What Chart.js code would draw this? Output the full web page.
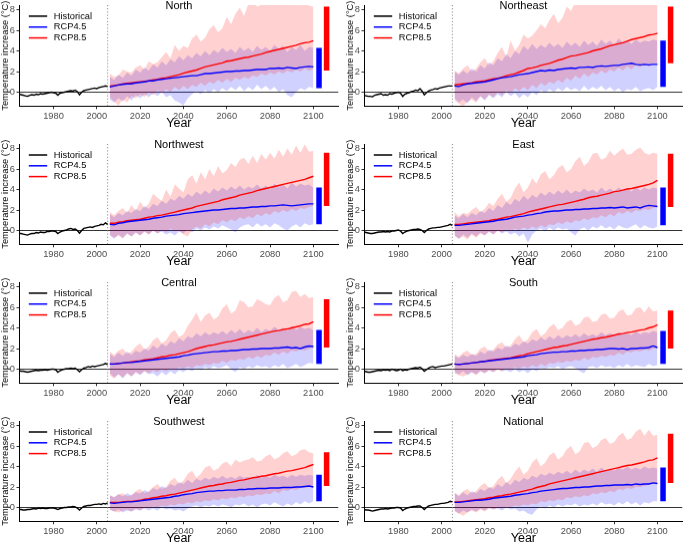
<!DOCTYPE html>
<html>
<head>
<meta charset="utf-8">
<script src="https://cdn.jsdelivr.net/npm/chart.js@4.4.1/dist/chart.umd.min.js"></script>
<style>
  html, body { margin: 0; padding: 0; background: #fff; overflow: hidden; }
  body { width: 685px; height: 543px; position: relative; }
  .panel { position: absolute; }
</style>
</head>
<body>
<script>
// Años
const histYears = [1964,1965,1966,1967,1968,1969,1970,1971,1972,1973,1974,1975,1976,1977,1978,1979,1980,1981,1982,1983,1984,1985,1986,1987,1988,1989,1990,1991,1992,1993,1994,1995,1996,1997,1998,1999,2000,2001,2002,2003,2004,2005];
const projYears = [2006,2008,2010,2012,2014,2016,2018,2020,2022,2024,2026,2028,2030,2032,2034,2036,2038,2040,2042,2044,2046,2048,2050,2052,2054,2056,2058,2060,2062,2064,2066,2068,2070,2072,2074,2076,2078,2080,2082,2084,2086,2088,2090,2092,2094,2096,2098,2100];
const xTicks = [1980, 2000, 2020, 2040, 2060, 2080, 2100];
const yTicks = [0, 2, 4, 6, 8];

const regions = ['North', 'Northeast', 'Northwest', 'East', 'Central', 'South', 'Southwest', 'National'];

// North
const northHist = [-0.2,-0.25,-0.3,-0.35,-0.4,-0.3,-0.25,-0.3,-0.2,-0.25,-0.15,-0.2,-0.15,-0.1,-0.05,0.0,-0.05,-0.1,-0.3,-0.1,-0.05,0.0,0.05,0.1,0.15,0.1,0.2,0.05,-0.25,0.0,0.15,0.2,0.25,0.3,0.35,0.4,0.35,0.45,0.5,0.55,0.6,0.55];
const north45 = [0.5,0.6,0.7,0.75,0.8,0.8,0.9,0.95,1.0,1.1,1.1,1.2,1.25,1.3,1.35,1.4,1.45,1.5,1.55,1.6,1.6,1.7,1.8,1.8,1.85,1.9,1.95,2.0,2.0,2.05,2.05,2.1,2.1,2.15,2.2,2.2,2.2,2.3,2.3,2.35,2.3,2.4,2.35,2.3,2.4,2.45,2.5,2.45];
const north45Hi = [1.5,1.2,1.7,1.4,1.9,1.6,2.2,1.9,2.4,2.1,2.7,2.4,3.0,2.6,3.2,2.9,3.5,3.1,3.6,3.3,3.8,3.5,4.0,3.6,4.1,3.8,4.3,3.9,4.2,3.8,4.4,4.0,4.3,3.9,4.5,4.1,4.4,4.0,4.6,4.2,4.5,3.9,4.4,4.1,4.6,4.0,4.4,4.3];
const north45Lo = [-0.7,-1.0,-0.6,-0.9,-0.4,-0.8,-0.3,-0.6,-0.2,-0.5,-0.1,-0.4,0.0,-0.5,-0.3,-0.8,-1.0,-1.3,-0.6,-0.2,0.1,-0.2,0.2,-0.1,0.3,0.0,0.4,0.1,0.5,0.2,0.6,0.1,0.5,0.2,0.7,0.3,0.6,0.2,0.5,0.0,0.3,-0.3,-0.5,0.0,0.4,0.2,0.5,0.4];
const north85 = [0.6,0.65,0.7,0.8,0.85,0.9,0.95,1.0,1.05,1.1,1.2,1.25,1.35,1.4,1.5,1.6,1.7,1.85,1.95,2.05,2.15,2.3,2.45,2.55,2.65,2.75,2.85,3.0,3.05,3.15,3.25,3.35,3.4,3.5,3.6,3.7,3.85,3.95,4.05,4.15,4.25,4.35,4.45,4.55,4.7,4.8,4.85,5.0];
const north85Hi = [1.8,1.5,1.6,2.2,2.0,1.9,2.4,2.6,2.2,3.0,2.7,2.9,3.4,3.9,3.3,4.6,4.0,4.5,4.3,5.2,5.6,4.9,5.3,6.1,6.5,5.8,6.2,7.3,6.6,7.6,8.2,7.4,8.6,8.9,8.3,8.5,8.9,9.0,8.7,8.6,8.9,8.5,8.8,8.4,8.9,8.6,8.4,8.3];
const north85Lo = [-0.5,-0.9,-1.3,-0.7,-1.0,-0.4,-0.6,-0.2,-0.5,0.0,-0.3,0.2,-0.1,0.3,0.0,0.5,0.2,0.6,0.3,0.7,0.5,0.9,0.6,1.0,0.8,1.2,0.9,1.3,1.0,1.4,1.2,1.5,1.3,1.6,1.5,1.8,1.6,1.9,1.7,2.0,1.8,2.1,1.9,2.2,2.0,2.3,2.1,2.2];

// Northeast
const neHist = [-0.3,-0.35,-0.4,-0.4,-0.45,-0.3,-0.25,-0.2,-0.15,-0.3,-0.25,-0.3,-0.15,-0.2,-0.1,-0.05,0.0,-0.1,-0.4,-0.2,-0.1,-0.05,0.05,0.1,0.2,0.15,0.35,0.1,-0.25,-0.05,0.1,0.2,0.25,0.35,0.3,0.4,0.45,0.5,0.55,0.6,0.6,0.6];
const ne45 = [0.6,0.55,0.7,0.8,0.85,0.9,0.95,1.0,1.1,1.2,1.3,1.4,1.45,1.5,1.6,1.7,1.75,1.8,1.9,2.0,2.1,2.05,2.15,2.1,2.2,2.25,2.3,2.35,2.3,2.4,2.4,2.45,2.4,2.5,2.55,2.5,2.55,2.6,2.6,2.7,2.75,2.8,2.7,2.65,2.7,2.65,2.7,2.7];
const ne45Hi = [2.0,1.7,2.1,1.8,2.3,2.0,2.6,2.3,2.9,2.6,3.3,3.0,3.7,3.3,4.0,3.7,4.5,4.1,4.7,4.2,4.6,4.3,4.8,4.4,4.7,4.3,4.9,4.5,4.8,4.4,5.0,4.6,4.9,4.5,5.1,4.7,5.0,4.6,5.2,4.8,5.0,4.7,5.1,4.8,5.0,4.9,5.1,5.0];
const ne45Lo = [-0.6,-1.0,-0.7,-1.1,-0.5,-0.9,-0.4,-0.8,-0.3,-0.6,-0.2,-0.5,0.0,-0.4,-0.1,-0.6,-0.2,-0.5,0.0,-0.3,0.2,-0.1,0.3,0.0,0.4,0.1,0.5,0.2,0.4,0.1,0.6,0.2,0.5,0.3,0.6,0.2,0.5,0.1,0.4,0.0,0.3,0.2,0.5,0.1,0.3,0.4,0.2,0.5];
const ne85 = [0.7,0.75,0.8,0.85,0.9,1.0,1.05,1.1,1.2,1.3,1.35,1.45,1.6,1.7,1.8,1.95,2.1,2.3,2.35,2.45,2.6,2.7,2.8,2.95,3.1,3.2,3.35,3.5,3.55,3.65,3.75,3.85,4.0,4.1,4.2,4.35,4.5,4.6,4.7,4.8,4.95,5.1,5.2,5.3,5.4,5.55,5.6,5.7];
const ne85Hi = [2.1,1.8,2.3,2.6,2.0,2.3,2.9,3.3,2.6,3.0,3.8,4.4,3.4,5.0,4.0,4.6,5.6,5.2,5.5,6.0,6.6,6.2,7.0,7.6,6.7,7.2,8.3,7.9,8.8,9.0,8.5,8.7,9.2,8.8,9.0,8.7,9.1,8.8,9.0,8.6,9.0,8.7,8.9,8.6,9.0,8.7,8.6,8.5];
const ne85Lo = [-0.8,-1.1,-1.4,-0.9,-0.7,-1.0,-0.4,-0.7,-0.2,-0.5,0.0,-0.3,0.2,-0.1,0.4,0.1,0.5,0.2,0.7,0.4,0.9,0.6,1.0,0.8,1.2,0.9,1.4,1.1,1.6,1.3,1.8,1.5,1.9,1.7,2.1,1.8,2.2,2.0,2.4,2.1,2.5,2.2,2.6,2.4,2.7,2.5,2.8,2.8];

// Northwest
const nwHist = [-0.3,-0.3,-0.35,-0.4,-0.45,-0.35,-0.3,-0.3,-0.2,-0.25,-0.15,-0.2,-0.2,-0.1,-0.1,-0.05,-0.05,-0.1,-0.3,-0.15,-0.05,0.0,0.05,0.15,0.2,0.1,0.15,0.0,-0.25,0.0,0.2,0.25,0.3,0.35,0.3,0.4,0.45,0.5,0.6,0.55,0.75,0.6];
const nw45 = [0.6,0.55,0.7,0.75,0.85,0.9,0.95,1.0,1.05,1.1,1.2,1.25,1.3,1.4,1.45,1.5,1.55,1.65,1.7,1.75,1.8,1.85,1.9,1.95,2.0,2.0,2.05,2.1,2.15,2.15,2.2,2.2,2.25,2.3,2.3,2.35,2.35,2.4,2.4,2.45,2.5,2.45,2.4,2.45,2.5,2.55,2.6,2.6];
const nw45Hi = [1.6,1.3,1.7,1.5,1.9,1.7,2.1,1.9,2.4,2.1,2.6,2.4,2.9,2.6,3.1,2.9,3.4,3.1,3.6,3.3,3.8,3.5,3.9,3.6,4.1,3.8,4.2,3.9,4.3,4.0,4.4,4.0,4.3,4.1,4.5,4.1,4.4,4.0,4.6,4.2,4.5,4.1,4.7,4.3,4.6,4.4,4.5,4.2];
const nw45Lo = [-0.5,-0.8,-0.4,-0.7,-0.3,-0.6,-0.2,-0.5,-0.1,-0.4,0.0,-0.3,-0.1,-0.4,-0.2,-0.5,-0.1,-0.3,0.1,-0.2,0.2,0.0,0.3,0.1,0.4,0.2,0.5,0.3,0.1,-0.2,0.3,0.5,0.6,0.3,0.7,0.4,0.6,0.3,0.7,0.5,0.2,0.0,0.4,0.6,0.3,0.7,0.5,0.6];
const nw85 = [0.7,0.7,0.8,0.85,0.95,1.0,1.05,1.1,1.2,1.3,1.35,1.45,1.5,1.6,1.7,1.8,1.9,2.0,2.1,2.2,2.35,2.45,2.55,2.65,2.75,2.85,3.0,3.1,3.2,3.3,3.45,3.55,3.65,3.75,3.9,4.0,4.1,4.2,4.3,4.4,4.5,4.6,4.7,4.8,4.9,5.0,5.15,5.3];
const nw85Hi = [1.8,1.5,1.9,2.2,1.7,2.5,1.9,2.8,2.2,2.6,3.6,3.2,2.9,4.0,3.3,4.5,4.1,3.7,5.0,5.4,4.6,5.7,5.0,6.0,5.3,6.3,5.6,5.9,6.6,6.2,6.9,7.1,6.5,7.3,6.6,7.5,6.9,7.6,7.0,7.9,7.2,8.0,7.4,8.3,7.6,8.4,7.7,7.8];
const nw85Lo = [-0.4,-0.7,-0.5,-0.8,-0.3,-0.6,-0.2,-0.5,-0.1,-0.4,0.0,-0.3,0.1,-0.2,0.2,-0.1,0.0,-0.4,-0.6,0.1,0.4,0.2,0.6,0.4,0.8,0.6,1.0,0.8,1.1,0.9,1.3,1.1,1.4,1.2,1.6,1.4,1.7,1.5,1.9,1.7,2.0,1.8,2.1,1.9,2.2,2.1,2.3,2.4];

// East
const eaHist = [-0.15,-0.2,-0.25,-0.3,-0.3,-0.25,-0.2,-0.15,-0.15,-0.1,-0.15,-0.1,-0.15,-0.05,-0.05,0.0,0.05,-0.05,-0.3,-0.15,-0.05,0.0,0.05,0.1,0.1,0.15,0.1,0.0,-0.2,0.0,0.15,0.2,0.25,0.25,0.3,0.3,0.35,0.4,0.45,0.5,0.6,0.5];
const ea45 = [0.5,0.5,0.55,0.6,0.65,0.7,0.75,0.8,0.85,0.9,1.0,1.05,1.1,1.2,1.3,1.35,1.4,1.5,1.55,1.65,1.7,1.8,1.85,1.9,1.9,1.95,2.0,2.0,2.05,2.05,2.1,2.1,2.15,2.15,2.2,2.2,2.25,2.2,2.25,2.3,2.2,2.25,2.3,2.2,2.35,2.45,2.4,2.35];
const ea45Hi = [1.5,1.2,1.6,1.3,1.7,1.5,1.9,1.7,2.2,1.9,2.5,2.2,2.8,2.5,3.1,2.8,3.4,3.0,3.5,3.2,3.7,3.4,3.8,3.5,3.9,3.6,4.0,3.6,3.9,3.7,4.1,3.8,4.0,3.7,4.2,3.8,4.1,3.8,4.2,3.9,4.1,3.8,4.3,3.9,4.2,4.0,4.2,4.1];
const ea45Lo = [-0.5,-0.8,-0.4,-0.7,-0.3,-0.6,-0.2,-0.5,-0.1,-0.4,0.0,-0.3,-0.1,-0.4,-0.2,-0.6,-0.3,-1.2,-0.4,0.0,0.2,-0.1,0.3,0.0,0.3,0.1,0.2,-0.2,-0.5,0.1,0.3,0.0,0.4,0.2,0.5,0.2,0.4,0.1,0.5,0.3,0.2,0.4,0.6,0.2,0.5,0.3,0.2,0.4];
const ea85 = [0.6,0.6,0.65,0.7,0.75,0.8,0.85,0.9,0.95,1.05,1.1,1.2,1.3,1.35,1.45,1.55,1.65,1.8,1.9,2.0,2.1,2.2,2.3,2.4,2.5,2.55,2.65,2.75,2.85,2.95,3.05,3.2,3.3,3.35,3.45,3.55,3.65,3.8,3.85,3.95,4.05,4.1,4.2,4.3,4.4,4.5,4.65,4.9];
const ea85Hi = [1.8,1.4,1.7,1.6,2.0,2.3,1.8,2.1,2.7,2.4,3.1,3.6,2.8,3.2,4.1,4.7,3.7,4.2,5.1,4.6,5.5,5.8,5.0,5.4,6.1,6.4,5.7,6.0,6.8,7.2,6.3,6.7,7.5,7.6,6.9,7.1,7.8,7.3,7.7,8.0,7.4,7.5,7.9,8.1,7.6,7.4,7.6,7.5];
const ea85Lo = [-0.5,-0.8,-0.6,-0.9,-0.4,-0.7,-0.3,-0.5,-0.1,-0.4,0.0,-0.2,0.1,-0.1,0.2,0.0,0.3,0.1,0.4,0.2,0.5,0.3,0.6,0.5,0.8,0.6,0.9,0.7,1.0,0.9,1.2,1.0,1.3,1.2,1.5,1.3,1.6,1.4,1.8,1.6,1.9,1.7,2.0,1.9,2.1,2.0,2.2,2.3];

// Central
const ceHist = [-0.15,-0.2,-0.2,-0.25,-0.3,-0.25,-0.2,-0.15,-0.1,-0.15,-0.1,-0.1,-0.05,-0.1,-0.05,0.0,0.0,-0.05,-0.3,-0.15,-0.05,0.0,0.05,0.05,0.1,0.05,0.1,-0.05,-0.25,-0.05,0.1,0.15,0.25,0.2,0.3,0.25,0.3,0.35,0.4,0.45,0.55,0.45];
const ce45 = [0.5,0.5,0.55,0.6,0.65,0.65,0.7,0.75,0.8,0.85,0.9,0.95,1.0,1.05,1.1,1.15,1.2,1.3,1.35,1.45,1.5,1.55,1.6,1.65,1.7,1.7,1.75,1.75,1.8,1.8,1.85,1.9,1.9,1.95,1.95,2.0,2.0,2.0,2.05,2.05,2.1,2.15,2.05,2.1,2.0,2.15,2.25,2.2];
const ce45Hi = [1.5,1.2,1.6,1.3,1.7,1.4,1.8,1.6,2.0,1.8,2.3,2.0,2.5,2.2,2.7,2.5,3.0,2.7,3.2,3.0,3.5,3.2,3.6,3.3,3.6,3.4,3.7,3.4,3.8,3.5,3.9,3.5,3.8,3.6,4.0,3.6,3.9,3.7,4.1,3.8,4.0,3.7,4.2,3.8,4.1,3.9,4.0,3.8];
const ce45Lo = [-0.4,-0.8,-0.5,-0.9,-0.4,-0.7,-0.3,-0.6,-0.2,-0.5,-0.4,-0.7,-0.3,-0.6,-0.2,-0.5,-0.1,-0.3,0.0,-0.2,0.1,-0.1,0.2,0.0,0.3,0.1,0.2,0.4,0.0,-0.3,0.2,0.0,0.3,0.1,0.4,0.2,0.3,0.1,0.4,0.2,0.5,0.1,0.3,0.5,0.2,0.4,0.6,0.5];
const ce85 = [0.5,0.5,0.55,0.6,0.65,0.7,0.75,0.8,0.9,0.95,1.0,1.1,1.2,1.25,1.35,1.4,1.5,1.6,1.7,1.85,2.0,2.1,2.2,2.3,2.35,2.45,2.55,2.65,2.7,2.8,2.9,3.0,3.1,3.2,3.3,3.4,3.5,3.6,3.7,3.75,3.85,3.9,4.0,4.1,4.2,4.35,4.4,4.6];
const ce85Hi = [1.7,1.4,1.8,2.0,1.5,1.7,2.2,2.5,1.9,2.2,2.8,3.1,2.5,2.8,3.5,3.8,3.1,3.4,4.2,4.8,5.5,4.6,5.2,5.5,4.8,5.1,5.9,6.3,5.4,5.7,6.7,6.5,6.0,6.1,6.8,6.6,6.3,6.2,6.9,7.2,6.5,6.7,7.5,7.6,7.0,7.3,6.9,7.0];
const ce85Lo = [-0.6,-0.9,-0.5,-0.8,-0.4,-0.7,-0.3,-0.5,-0.2,-0.4,-0.1,-0.3,0.0,-0.2,0.1,-0.1,0.2,0.0,0.3,0.1,0.4,0.3,0.5,0.4,0.6,0.5,0.8,0.6,0.9,0.8,1.0,0.9,1.2,1.0,1.3,1.1,1.4,1.3,1.6,1.4,1.7,1.5,1.8,1.7,1.9,1.8,2.0,2.1];

// South
const soHist = [-0.2,-0.25,-0.3,-0.3,-0.25,-0.2,-0.15,-0.1,-0.15,-0.05,-0.1,-0.05,-0.15,0.0,-0.05,-0.15,-0.1,0.0,-0.15,-0.05,-0.1,0.0,0.05,0.1,0.15,0.1,0.2,0.05,-0.2,-0.05,0.1,0.2,0.25,0.15,0.2,0.25,0.3,0.3,0.35,0.4,0.45,0.5];
const so45 = [0.5,0.45,0.5,0.55,0.6,0.65,0.7,0.75,0.8,0.85,0.9,0.95,1.0,1.05,1.1,1.15,1.2,1.3,1.35,1.4,1.5,1.55,1.6,1.65,1.65,1.7,1.7,1.75,1.75,1.8,1.8,1.85,1.85,1.9,1.9,1.95,2.0,2.0,1.95,2.0,1.9,2.0,2.0,2.05,2.05,2.1,2.25,2.1];
const so45Hi = [1.3,1.1,1.4,1.2,1.5,1.3,1.7,1.5,1.9,1.7,2.1,1.9,2.3,2.1,2.5,2.3,2.7,2.5,2.9,2.7,3.1,2.8,3.2,2.9,3.3,3.0,3.3,3.1,3.4,3.1,3.5,3.2,3.4,3.2,3.6,3.3,3.5,3.3,3.6,3.4,3.5,3.3,3.7,3.4,3.6,3.5,3.7,3.6];
const so45Lo = [-0.3,-0.5,-0.2,-0.6,-0.3,-0.5,-0.2,-0.4,-0.1,-0.3,0.0,-0.2,-0.1,-0.3,0.0,-0.3,-0.1,-0.4,0.0,-0.2,0.1,0.0,0.2,0.1,0.3,0.0,0.2,0.3,0.1,-0.2,-0.4,0.2,0.3,0.1,0.4,0.2,0.3,0.1,0.4,0.2,0.5,0.2,0.4,0.3,0.2,0.5,0.3,0.4];
const so85 = [0.5,0.45,0.5,0.55,0.6,0.65,0.7,0.75,0.85,0.9,0.95,1.0,1.05,1.1,1.2,1.3,1.35,1.5,1.6,1.7,1.8,1.9,2.0,2.1,2.15,2.25,2.3,2.4,2.5,2.6,2.7,2.8,2.9,2.95,3.05,3.1,3.2,3.3,3.4,3.45,3.55,3.6,3.7,3.8,3.85,4.0,4.1,4.3];
const so85Hi = [1.5,1.2,1.6,1.8,1.4,1.5,2.0,2.2,1.7,1.9,2.4,2.6,2.1,2.3,2.9,3.3,2.6,2.9,3.6,3.9,3.2,3.5,4.1,4.4,3.8,4.0,4.6,4.8,4.2,4.4,5.0,5.1,4.6,4.7,5.3,5.4,4.9,5.0,5.6,5.8,5.2,5.3,5.9,6.0,5.5,6.1,5.6,5.7];
const so85Lo = [-0.4,-0.6,-0.7,-0.5,-0.3,-0.6,-0.2,-0.4,-0.1,-0.3,0.0,-0.2,0.1,-0.1,0.2,0.0,0.3,0.1,0.4,0.2,0.5,0.3,0.6,0.5,0.7,0.6,0.8,0.7,0.9,0.8,1.1,0.9,1.2,1.1,1.3,1.2,1.4,1.3,1.6,1.4,1.7,1.6,1.8,1.7,1.9,1.8,2.0,2.0];

// Southwest
const swHist = [-0.2,-0.2,-0.25,-0.25,-0.2,-0.2,-0.15,-0.1,-0.15,-0.05,-0.1,-0.05,-0.1,-0.1,-0.05,-0.05,-0.05,-0.1,-0.2,-0.1,-0.05,0.0,0.0,0.05,0.05,0.1,0.05,-0.05,-0.25,-0.05,0.1,0.15,0.2,0.2,0.25,0.3,0.3,0.35,0.3,0.4,0.35,0.45];
const sw45 = [0.45,0.4,0.45,0.5,0.55,0.55,0.6,0.65,0.7,0.75,0.8,0.85,0.9,0.95,1.0,1.1,1.15,1.25,1.3,1.35,1.45,1.5,1.55,1.6,1.6,1.65,1.65,1.7,1.7,1.7,1.75,1.75,1.8,1.8,1.85,1.85,1.85,1.9,1.9,1.9,1.95,1.95,1.95,2.0,2.0,2.05,2.1,2.0];
const sw45Hi = [1.2,1.0,1.3,1.1,1.4,1.2,1.5,1.4,1.7,1.5,1.9,1.7,2.1,1.9,2.3,2.1,2.5,2.3,2.7,2.4,2.8,2.6,2.9,2.7,3.0,2.8,3.1,2.8,3.0,2.8,3.1,2.9,3.0,2.8,3.2,2.9,3.1,2.9,3.2,3.0,3.1,2.9,3.2,3.0,3.2,3.1,3.2,3.1];
const sw45Lo = [-0.2,-0.4,-0.2,-0.5,-0.3,-0.4,-0.2,-0.3,-0.1,-0.3,-0.1,-0.3,0.0,-0.2,-0.1,-0.3,-0.2,-0.4,-0.1,0.1,0.2,0.0,0.2,0.1,0.3,0.1,0.3,0.2,0.0,0.3,0.2,0.4,0.1,0.3,0.0,0.3,0.4,0.2,0.5,0.3,0.1,0.4,0.2,0.5,0.3,0.6,0.4,0.6];
const sw85 = [0.5,0.5,0.5,0.55,0.6,0.6,0.65,0.7,0.8,0.85,0.95,1.0,1.1,1.15,1.25,1.3,1.4,1.5,1.6,1.7,1.8,1.9,2.0,2.1,2.15,2.25,2.3,2.4,2.45,2.55,2.65,2.7,2.8,2.9,2.95,3.05,3.1,3.2,3.3,3.35,3.45,3.55,3.6,3.7,3.8,3.9,4.05,4.2];
const sw85Hi = [1.2,1.0,1.3,1.4,1.1,1.2,1.6,1.8,1.4,1.6,2.0,2.3,1.8,2.0,2.6,2.9,2.3,2.6,3.3,3.6,2.9,3.3,3.9,4.1,3.6,3.8,4.3,4.5,4.0,4.7,4.4,4.6,4.7,4.9,4.5,4.6,5.0,5.2,4.7,4.9,5.3,5.5,5.0,5.2,5.6,5.7,5.4,5.3];
const sw85Lo = [-0.2,-0.4,-0.5,-0.3,-0.2,-0.4,-0.1,-0.3,0.0,-0.1,0.1,0.0,0.2,0.1,0.3,0.2,0.4,0.3,0.5,0.4,0.6,0.5,0.7,0.6,0.8,0.7,0.9,0.8,1.0,0.9,1.1,1.0,1.2,1.1,1.3,1.2,1.4,1.3,1.6,1.4,1.7,1.6,1.8,1.7,1.9,1.9,2.0,2.1];

// National
const naHist = [-0.2,-0.25,-0.25,-0.3,-0.35,-0.3,-0.25,-0.2,-0.15,-0.15,-0.1,-0.15,-0.1,-0.05,-0.05,0.0,0.0,-0.05,-0.3,-0.15,-0.05,0.0,0.05,0.1,0.1,0.15,0.15,0.0,-0.2,0.0,0.15,0.2,0.25,0.3,0.3,0.35,0.4,0.4,0.45,0.5,0.6,0.55];
const na45 = [0.5,0.5,0.55,0.6,0.65,0.7,0.7,0.75,0.8,0.9,0.95,1.0,1.05,1.1,1.2,1.25,1.3,1.35,1.45,1.5,1.6,1.65,1.7,1.75,1.8,1.85,1.85,1.9,1.95,1.95,2.0,2.0,2.05,2.1,2.1,2.15,2.15,2.2,2.2,2.2,2.25,2.2,2.3,2.25,2.3,2.3,2.4,2.35];
const na45Hi = [1.4,1.1,1.5,1.2,1.6,1.4,1.8,1.6,2.0,1.8,2.3,2.0,2.5,2.2,2.7,2.5,2.9,2.7,3.1,2.9,3.3,3.1,3.4,3.2,3.5,3.3,3.6,3.3,3.7,3.4,3.7,3.5,3.8,3.5,3.9,3.6,3.8,3.6,3.9,3.7,4.0,3.7,3.9,3.7,4.0,3.8,3.9,3.8];
const na45Lo = [-0.3,-0.6,-0.3,-0.5,-0.2,-0.4,-0.1,-0.3,0.0,-0.2,-0.1,-0.3,0.0,-0.2,-0.1,-0.4,-0.3,-0.6,-0.7,-0.2,0.1,-0.1,0.2,0.0,0.3,0.1,0.3,0.2,0.4,0.1,0.3,0.2,0.4,0.2,0.5,0.3,0.4,0.2,0.5,0.3,0.6,0.3,0.5,0.2,0.5,0.4,0.6,0.6];
const na85 = [0.55,0.55,0.6,0.65,0.7,0.75,0.8,0.85,0.95,1.0,1.1,1.15,1.25,1.3,1.4,1.5,1.6,1.7,1.8,1.95,2.05,2.15,2.3,2.4,2.5,2.6,2.7,2.8,2.9,3.0,3.1,3.2,3.3,3.4,3.5,3.6,3.7,3.8,3.9,4.0,4.1,4.15,4.25,4.35,4.45,4.6,4.65,4.85];
const na85Hi = [1.5,1.2,1.6,1.8,1.4,1.6,2.1,2.4,1.9,2.1,2.7,3.1,2.4,2.8,3.5,4.0,3.2,3.6,4.4,4.8,4.0,4.4,5.1,5.4,4.7,5.0,5.7,6.0,5.2,5.5,6.3,6.4,5.8,6.0,6.6,6.8,6.2,6.4,7.0,7.3,6.6,6.8,7.4,7.7,7.0,7.6,7.0,7.1];
const na85Lo = [-0.4,-0.6,-0.8,-0.5,-0.3,-0.5,-0.2,-0.4,-0.1,-0.2,0.0,-0.1,0.1,0.0,0.2,0.1,0.3,0.2,0.4,0.3,0.6,0.5,0.7,0.6,0.8,0.7,1.0,0.9,1.1,1.0,1.2,1.1,1.4,1.3,1.5,1.4,1.6,1.5,1.8,1.7,1.9,1.8,2.0,2.0,2.1,2.2,2.3,2.4];

// Barras de rango al final (por región)
const bar45Lo = [0.4, 0.5, 0.6, 0.5, 0.5, 0.5, 0.6, 0.6];
const bar45Hi = [4.3, 5.0, 4.2, 4.2, 3.8, 3.7, 3.2, 3.9];
const bar85Lo = [2.1, 2.8, 2.4, 2.3, 2.1, 2.0, 2.1, 2.4];
const bar85Hi = [8.3, 8.3, 7.6, 7.5, 6.8, 5.7, 5.4, 7.2];

const histAll = [northHist, neHist, nwHist, eaHist, ceHist, soHist, swHist, naHist];
const mean45All = [north45, ne45, nw45, ea45, ce45, so45, sw45, na45];
const hi45All = [north45Hi, ne45Hi, nw45Hi, ea45Hi, ce45Hi, so45Hi, sw45Hi, na45Hi];
const lo45All = [north45Lo, ne45Lo, nw45Lo, ea45Lo, ce45Lo, so45Lo, sw45Lo, na45Lo];
const mean85All = [north85, ne85, nw85, ea85, ce85, so85, sw85, na85];
const hi85All = [north85Hi, ne85Hi, nw85Hi, ea85Hi, ce85Hi, so85Hi, sw85Hi, na85Hi];
const lo85All = [north85Lo, ne85Lo, nw85Lo, ea85Lo, ce85Lo, so85Lo, sw85Lo, na85Lo];

const splitYear = 2005;
const barX45 = 2102.6;
const barX85 = 2106.1;
const xMin = 1964.3, xMax = 2111.5;
const yMin = -1.35, yMax = 8.45;

Chart.defaults.font.family = '"Liberation Sans", Arial, sans-serif';
Chart.defaults.color = '#4d4d4d';

// Función para convertir arreglos a puntos
function puntos(xs, ys) {
    return xs.map((x, i) => ({ x: x, y: ys[i] }));
}

// Plugin para título y leyenda dentro del panel
const decorPanel = {
    id: 'decorPanel',
    afterDraw(chart, args, opts) {
        const { ctx, chartArea } = chart;
        ctx.save();
        ctx.fillStyle = '#000';
        ctx.textBaseline = 'middle';
        ctx.font = '11px "Liberation Sans", Arial, sans-serif';
        ctx.textAlign = 'center';
        ctx.fillText(opts.title, (chartArea.left + chartArea.right) / 2, chartArea.top + 0.8);

        const items = [['Historical', '#000000'], ['RCP4.5', '#0000ff'], ['RCP8.5', '#ff0000']];
        ctx.font = '9.3px "Liberation Sans", Arial, sans-serif';
        ctx.textAlign = 'left';
        items.forEach((it, i) => {
            const y = chartArea.top + 11 + i * 10.8;
            ctx.strokeStyle = it[1];
            ctx.lineWidth = 1.5;
            ctx.beginPath();
            ctx.moveTo(chartArea.left + 9.3, y);
            ctx.lineTo(chartArea.left + 27.7, y);
            ctx.stroke();
            ctx.fillStyle = '#000';
            ctx.fillText(it[0], chartArea.left + 34.3, y);
        });
        ctx.restore();
    }
};

const rowTops = [0, 138.5, 277, 415.5];
const panelH = 138.5;

regions.forEach((nombre, k) => {
    const col = k % 2;
    const row = Math.floor(k / 2);
    const div = document.createElement('div');
    div.className = 'panel';
    div.style.left = (col === 0 ? 0 : 345) + 'px';
    div.style.top = rowTops[row] + 'px';
    div.style.width = (col === 0 ? 342 : 340) + 'px';
    div.style.height = panelH + 'px';
    const canvas = document.createElement('canvas');
    div.appendChild(canvas);
    document.body.appendChild(div);

    const lineaBase = { pointRadius: 0, pointHoverRadius: 0, fill: false, tension: 0 };
    const invisible = 'rgba(0,0,0,0)';

    new Chart(canvas, {
        type: 'line',
        data: {
            datasets: [
                Object.assign({ label: 'Historical', data: puntos(histYears, histAll[k]), borderColor: '#000000', borderWidth: 1.4 }, lineaBase),
                Object.assign({ label: 'RCP4.5', data: puntos(projYears, mean45All[k]), borderColor: '#0000ff', borderWidth: 1.4 }, lineaBase),
                Object.assign({ label: 'RCP8.5', data: puntos(projYears, mean85All[k]), borderColor: '#ff0000', borderWidth: 1.4 }, lineaBase),
                Object.assign({ label: 'bar45', data: [{ x: barX45, y: bar45Lo[k] }, { x: barX45, y: bar45Hi[k] }], borderColor: '#0000ff', borderWidth: 5.5, borderCapStyle: 'butt' }, lineaBase),
                Object.assign({ label: 'bar85', data: [{ x: barX85, y: bar85Lo[k] }, { x: barX85, y: bar85Hi[k] }], borderColor: '#ff0000', borderWidth: 5.5, borderCapStyle: 'butt' }, lineaBase),
                Object.assign({ label: 'split', data: [{ x: splitYear, y: yMin }, { x: splitYear, y: yMax }], borderColor: '#8c8c8c', borderWidth: 1, borderDash: [1.2, 2] }, lineaBase),
                // banda RCP8.5 encima de la banda RCP4.5
                Object.assign({}, lineaBase, { label: 'hi85', data: puntos(projYears, hi85All[k]), borderWidth: 0, borderColor: invisible, fill: '+1', backgroundColor: 'rgba(255,0,0,0.18)' }),
                Object.assign({ label: 'lo85', data: puntos(projYears, lo85All[k]), borderWidth: 0, borderColor: invisible }, lineaBase),
                Object.assign({}, lineaBase, { label: 'hi45', data: puntos(projYears, hi45All[k]), borderWidth: 0, borderColor: invisible, fill: '+1', backgroundColor: 'rgba(0,0,255,0.18)' }),
                Object.assign({ label: 'lo45', data: puntos(projYears, lo45All[k]), borderWidth: 0, borderColor: invisible }, lineaBase)
            ]
        },
        options: {
            responsive: true,
            maintainAspectRatio: false,
            animation: false,
            events: [],
            layout: { padding: { top: 5, left: 0, right: col === 0 ? 3.7 : 0, bottom: 0 } },
            plugins: {
                legend: { display: false },
                tooltip: { enabled: false },
                decorPanel: { title: nombre }
            },
            scales: {
                x: {
                    type: 'linear',
                    min: xMin,
                    max: xMax,
                    afterBuildTicks: s => { s.ticks = xTicks.map(v => ({ value: v })); },
                    afterFit: s => { s.height = 33.2; s.paddingLeft = 0; s.paddingRight = 0; },
                    ticks: { font: { size: 9.3 }, color: '#4d4d4d', padding: 2, maxRotation: 0, autoSkip: false, callback: v => String(v) },
                    grid: { drawOnChartArea: false, drawTicks: true, tickLength: 3, tickColor: '#333333', tickWidth: 1 },
                    border: { display: true, color: '#000000', width: 1 },
                    title: { display: true, text: 'Year', color: '#000000', font: { size: 12.5 }, padding: { top: 0, bottom: 8 } }
                },
                y: {
                    type: 'linear',
                    min: yMin,
                    max: yMax,
                    afterBuildTicks: s => { s.ticks = yTicks.map(v => ({ value: v })); },
                    afterFit: s => { s.width = 19.5; s.paddingTop = 0; s.paddingBottom = 0; },
                    ticks: { font: { size: 9.3 }, color: '#4d4d4d', padding: 1.5, callback: v => String(v) },
                    grid: {
                        drawOnChartArea: true,
                        color: c => (c.tick && c.tick.value === 0) ? '#333333' : 'rgba(0,0,0,0)',
                        lineWidth: 1,
                        tickLength: 3,
                        tickColor: '#333333'
                    },
                    border: { display: true, color: '#000000', width: 1 },
                    title: { display: true, text: 'Temperature increase (°C)', color: '#000000', font: { size: 9.3 }, padding: { top: 0, bottom: 0 } }
                }
            }
        },
        plugins: [decorPanel]
    });
});
</script>
</body>
</html>
